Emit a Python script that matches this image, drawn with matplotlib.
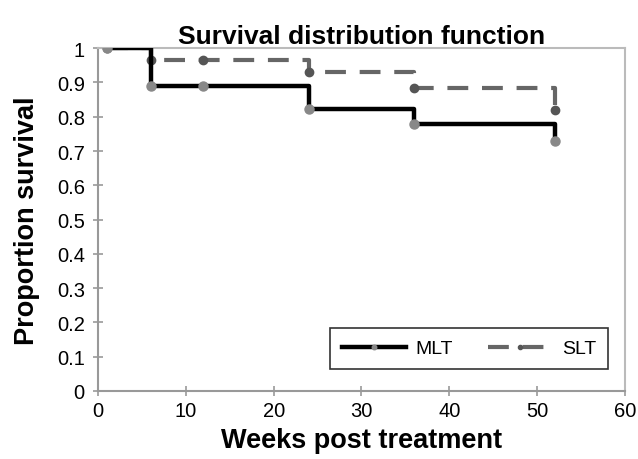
import matplotlib.pyplot as plt

weeks = [1, 6, 12, 24, 36, 52]
mlt = [1.0, 0.889, 0.889, 0.822, 0.78, 0.73]
slt = [1.0, 0.967, 0.967, 0.93, 0.885, 0.82]

plt.rcParams['font.family'] = ['Liberation Sans', 'DejaVu Sans']

fig = plt.figure(figsize=(6.38, 4.6), dpi=100)
ax = fig.add_axes([0.1536, 0.148, 0.826, 0.745])

ax.step(weeks, slt, where='post', color='#666666', lw=3, dashes=(5, 3.3),
        marker='o', markersize=6, markerfacecolor='#555555', markeredgecolor='#555555',
        label='SLT', zorder=2)
ax.step(weeks, mlt, where='post', color='black', lw=3.2,
        marker='o', markersize=6.5, markerfacecolor='#888888', markeredgecolor='#888888',
        label='MLT', zorder=3)

ax.set_xlim(0, 60)
ax.set_ylim(0, 1)
ax.set_xticks(range(0, 61, 10))
ax.set_yticks([i / 10 for i in range(11)])
ax.set_yticklabels(['0', '0.1', '0.2', '0.3', '0.4', '0.5', '0.6', '0.7', '0.8', '0.9', '1'])
ax.tick_params(direction='inout', length=7, width=1.2, color='#999999', labelsize=14.5, pad=4)
ax.tick_params(axis='y', pad=6)
for s in ax.spines.values():
    s.set_color('#bbbbbb')
    s.set_linewidth(1.5)
ax.spines['left'].set_color('#999999')
ax.spines['bottom'].set_color('#999999')

ax.set_title('Survival distribution function', fontsize=19, fontweight='bold', pad=4)
ax.set_xlabel('Weeks post treatment', fontsize=19.5, fontweight='bold', labelpad=5)
ax.set_ylabel('Proportion survival', fontsize=19.5, fontweight='bold', labelpad=12)

h, l = ax.get_legend_handles_labels()
leg = ax.legend(h[::-1], l[::-1], loc='lower right', ncol=2, fontsize=14,
                frameon=True, fancybox=False, edgecolor='black', handlelength=3.3,
                columnspacing=1.8, borderpad=0.6, handletextpad=0.5,
                bbox_to_anchor=(0.968, 0.064), borderaxespad=0, markerscale=0.5)
leg.get_frame().set_linewidth(1.2)

fig.savefig('out.png', dpi=100)
